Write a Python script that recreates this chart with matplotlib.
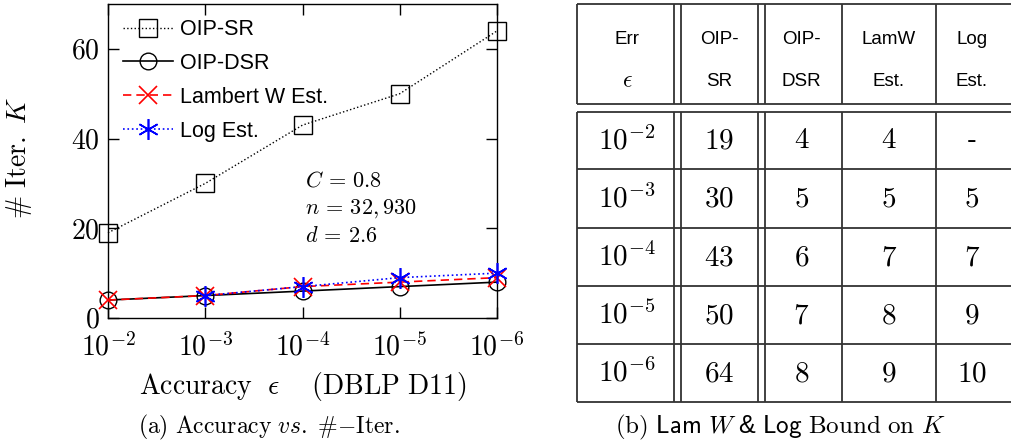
import numpy as np
import matplotlib.pyplot as plt
from matplotlib.lines import Line2D

plt.rcParams['mathtext.fontset'] = 'cm'
plt.rcParams['font.family'] = ['Liberation Sans', 'DejaVu Sans']

# Data
eps_exp = [-2, -3, -4, -5, -6]
oip_sr = [19, 30, 43, 50, 64]
oip_dsr = [4, 5, 6, 7, 8]
lamw_est = [4, 5, 7, 8, 9]
log_est = [None, 5, 7, 9, 10]

header = [('Err', r'$\epsilon$'), ('OIP-', 'SR'), ('OIP-', 'DSR'), ('LamW', 'Est.'), ('Log', 'Est.')]

fig = plt.figure(figsize=(10.11, 4.46), dpi=100)
W, H = 1011, 446

# left plot
ax = fig.add_axes([108 / W, 1 - 318 / H, (497 - 108) / W, (318 - 4) / H])
x = np.arange(len(eps_exp))
ax.plot(x, oip_sr, ls=':', color='black', lw=1, marker='s', ms=13, mfc='none', mec='black', mew=1,
        label='OIP-SR', clip_on=False, zorder=3)
ax.plot(x, oip_dsr, ls='-', color='black', lw=1.2, marker='o', ms=12, mfc='none', mec='black', mew=1,
        label='OIP-DSR', clip_on=False, zorder=3)
ax.plot(x, lamw_est, ls=(0, (5, 3)), color='red', lw=1.2, marker='x', ms=13, mew=1.2,
        label='Lambert W Est.', clip_on=False, zorder=4)
lx = [xi for xi, v in zip(x, log_est) if v is not None]
ly = [v for v in log_est if v is not None]
ax.plot(lx, ly, ls=':', color='blue', lw=1.2, marker=(6, 2, 0), ms=15, mew=1.2,
        label='Log Est.', clip_on=False, zorder=5)

ax.set_xlim(0, 4)
ax.set_ylim(0, 70)
ax.set_xticks(x)
ax.set_xticklabels([r'$10^{%d}$' % e for e in eps_exp], fontsize=20)
ax.set_yticks([0, 20, 40, 60])
ax.set_yticklabels([r'$%d$' % v for v in [0, 20, 40, 60]], fontsize=20)
ax.tick_params(direction='in', top=True, right=True, length=8, width=1)
ax.tick_params(axis='x', pad=11)
ax.tick_params(axis='y', pad=6)
for s in ax.spines.values():
    s.set_linewidth(1)

ax.set_ylabel(r'$\#\ \mathrm{Iter.}\ K$', fontsize=20)
ax.yaxis.set_label_coords(-0.19, 0.51)
ax.set_xlabel(r'$\mathrm{Accuracy}\ \ \epsilon\quad\ (\mathrm{DBLP}\ \mathrm{D11})$', fontsize=20, labelpad=6)

for yy, s in zip([0.436, 0.347, 0.258], [r'$C\,=\,0.8$', r'$n\,=\,32,930$', r'$d\,=\,2.6$']):
    ax.text(0.506, yy, s, transform=ax.transAxes, fontsize=16, va='center')

ax.legend(loc='upper left', frameon=False, fontsize=15.5, handlelength=2.3, handletextpad=0.35,
          labelspacing=0.6, borderaxespad=0.3, bbox_to_anchor=(0.0, 1.0))

fig.text(269 / W, 1 - 427 / H, r'$\mathrm{(a)\ Accuracy}\ vs.\ \#\mathrm{-Iter.}$', fontsize=17,
         ha='center', va='center')

# table
tx = fig.add_axes([0, 0, 1, 1])
tx.set_xlim(0, W)
tx.set_ylim(H, 0)
tx.axis('off')

cols = [577, 677, 761, 842, 936, 1030]
hdr_top, hdr_bot = 4, 104
rows = [112, 169, 228, 286, 344, 402]
kw = dict(color='#333333', lw=1.3, solid_capstyle='butt')

# horizontal lines
for yy in [hdr_top, hdr_bot] + rows:
    tx.add_line(Line2D([cols[0], W], [yy, yy], **kw))
# vertical lines (double after first two columns)
for top, bot in [(hdr_top, hdr_bot), (rows[0], rows[-1])]:
    for i, cx in enumerate(cols[:-1]):
        if i in (1, 2):
            tx.add_line(Line2D([cx - 3.5, cx - 3.5], [top, bot], **kw))
            tx.add_line(Line2D([cx + 3.5, cx + 3.5], [top, bot], **kw))
        else:
            tx.add_line(Line2D([cx, cx], [top, bot], **kw))

centers = [(cols[i] + cols[i + 1]) / 2 for i in range(len(cols) - 1)]
centers[-1] = 972
for c, (h1, h2) in zip(centers, header):
    tx.text(c, 39, h1, ha='center', va='center', fontsize=13.5)
    tx.text(c, 81, h2, ha='center', va='center', fontsize=17 if h2.startswith('$') else 13.5)

table_cols = [[r'$10^{%d}$' % e for e in eps_exp], oip_sr, oip_dsr, lamw_est,
              [v if v is not None else '-' for v in log_est]]
for ci, colvals in enumerate(table_cols):
    for ri, v in enumerate(colvals):
        yc = (rows[ri] + rows[ri + 1]) / 2
        s = v if isinstance(v, str) and v.startswith('$') else (r'$%s$' % v if v != '-' else '-')
        tx.text(centers[ci], yc, s, ha='center', va='center', fontsize=21)

fig.text(780 / W, 1 - 427 / H,
         r'$\mathrm{(b)}\ \mathsf{Lam}\ W$ & $\mathsf{Log}\ \mathrm{Bound\ on}\ K$',
         fontsize=18, ha='center', va='center')

fig.savefig('out.png', dpi=100)
